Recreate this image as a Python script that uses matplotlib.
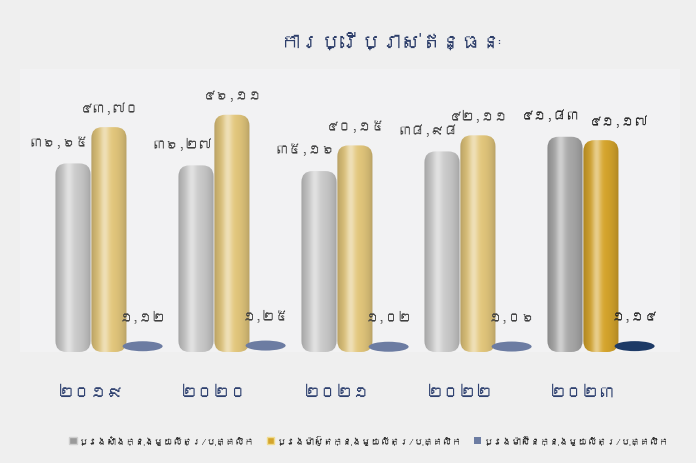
import numpy as np
import matplotlib
matplotlib.use('Agg')
import matplotlib.pyplot as plt
from matplotlib import font_manager
from matplotlib.ft2font import FT2Font
from matplotlib.patches import FancyBboxPatch, Ellipse, Patch

# data
years = ['២០១៩', '២០២០', '២០២១', '២០២២', '២០២៣']
gasoline = [36.65, 36.27, 35.16, 38.98, 41.83]
diesel = [43.70, 46.11, 40.15, 42.11, 41.17]
engine_oil = [1.12, 1.25, 1.02, 1.06, 1.14]
series_names = ['ប្រេងសាំងក្នុងមួយលីត្រ/បុគ្គលិក',
                'ប្រេងម៉ាស៊ូតក្នុងមួយលីត្រ/បុគ្គលិក',
                'ប្រេងម៉ាស៊ីនក្នុងមួយលីត្រ/បុគ្គលិក']
title = 'ការប្រើប្រាស់ឥន្ធនៈ'

KH_DIGITS = str.maketrans('0123456789', '០១២៣៤៥៦៧៨៩')


def kh_num(v):
    return f'{v:.2f}'.replace('.', ',').translate(KH_DIGITS)


def find_khmer_font():
    # look for any installed font that has Khmer glyphs
    for f in font_manager.fontManager.ttflist:
        try:
            if 0x1780 in FT2Font(f.fname).get_charmap():
                return f.name
        except Exception:
            pass
    return None


kh_font = find_khmer_font()
families = [kh_font, 'DejaVu Sans'] if kh_font else ['DejaVu Sans']
plt.rcParams['font.family'] = families


def shade_profile(base, n=80):
    t = np.linspace(0, 1, n)
    f = 0.78 + 0.22 * np.sin(np.pi * t) ** 0.6
    hl = 0.45 * np.exp(-((t - 0.38) / 0.13) ** 2)
    rgb = np.array(matplotlib.colors.to_rgb(base))[None, :] * f[:, None]
    rgb = rgb + (1 - rgb) * hl[:, None]
    return np.clip(rgb, 0, 1)[None, :, :]


def cylinder(ax, rect, base, x_px, y_px, radius=11):
    x, w, h = rect.get_x(), rect.get_width(), rect.get_height()
    patch = FancyBboxPatch((x, 0), w, h,
                           boxstyle=f'round,pad=0,rounding_size={radius * x_px}',
                           mutation_aspect=y_px / x_px,
                           facecolor='none', edgecolor='none', zorder=3)
    ax.add_patch(patch)
    im = ax.imshow(shade_profile(base), extent=(x, x + w, 0, h),
                   aspect='auto', zorder=2, interpolation='bilinear')
    im.set_clip_path(patch)
    rect.set_visible(False)


fig = plt.figure(figsize=(6.96, 4.64), dpi=100)
fig.patch.set_facecolor('#efefef')
ax = fig.add_axes([20 / 696, 111 / 464, 660 / 696, 283 / 464])
ax.set_facecolor('#f2f2f3')
for s in ax.spines.values():
    s.set_visible(False)

x = np.arange(len(years))
width = 0.285
ax.set_xlim(-0.577, 4.789)
ax.set_ylim(0, 55)
x_px = (4.789 + 0.577) / ax.bbox.width
y_px = 55 / ax.bbox.height

gray_cols = ['#cacaca'] * 4 + ['#a9a9a9']
gold_cols = ['#e3c77c'] * 4 + ['#d6a52c']
blue_cols = ['#6c7ca2'] * 4 + ['#1d3a66']

b1 = ax.bar(x - 0.146, gasoline, width, color=gray_cols)
b2 = ax.bar(x + 0.146, diesel, width, color=gold_cols)
b3 = ax.bar(x + 0.42, engine_oil, width, color=blue_cols)

for r, c in zip(b1, gray_cols):
    cylinder(ax, r, c, x_px, y_px)
for r, c in zip(b2, gold_cols):
    cylinder(ax, r, c, x_px, y_px)
for r, c in zip(b3, blue_cols):
    r.set_visible(False)
    ax.add_patch(Ellipse((r.get_x() + r.get_width() / 2, r.get_height()),
                         width=40 * x_px, height=10 * y_px,
                         facecolor=c, edgecolor='none', zorder=3))

# value labels
for i in range(len(years)):
    last = i == len(years) - 1
    kw = dict(textcoords='offset pixels', ha='center', va='center',
              fontsize=9.5, color='#262626' if last else '#3f3f3f',
              fontweight='bold' if last else 'normal')
    ax.annotate(kh_num(gasoline[i]), (x[i] - 0.146, gasoline[i]),
                xytext=(-14, 22), **kw)
    ax.annotate(kh_num(diesel[i]), (x[i] + 0.146, diesel[i]),
                xytext=(18 if last else 1, 20), **kw)
    ax.annotate(kh_num(engine_oil[i]), (x[i] + 0.42, engine_oil[i]),
                xytext=(0, 30), **kw)

ax.set_xticks(x)
ax.set_xticklabels(years, fontsize=12, color='#2f4170')
ax.tick_params(axis='x', length=0, pad=24)
ax.set_yticks([])

fig.text(391 / 696, 1 - 42 / 464, title, ha='center', va='center',
         fontsize=14.5, color='#2d3e6a')

handles = [Patch(facecolor='#9a9a9a', edgecolor='#cfcfcf'),
           Patch(facecolor='#d4a52c', edgecolor='#f0dc90'),
           Patch(facecolor='#6c7ca2', edgecolor='none')]
fig.legend(handles, series_names, loc='center', bbox_to_anchor=(0.53, 1 - 441 / 464),
           ncol=3, frameon=False, fontsize=6.8, handlelength=0.8, handleheight=0.8,
           handletextpad=0.2, columnspacing=1.3, labelcolor='#262626')

fig.savefig('out.png', dpi=100, facecolor=fig.get_facecolor())
